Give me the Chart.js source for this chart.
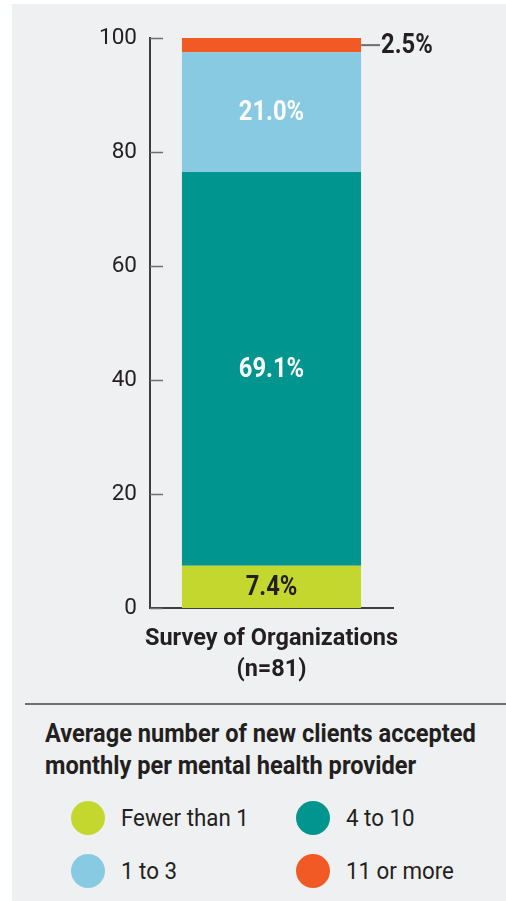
<!DOCTYPE html>
<html>
<head>
<meta charset="utf-8">
<script src="https://cdn.jsdelivr.net/npm/chart.js@4"></script>
<style>
  html, body { margin: 0; padding: 0; background: #ffffff; }
  body { width: 506px; height: 901px; position: relative; overflow: hidden;
         font-family: 'Roboto', sans-serif; color: #231f20; }
  .panel { position: absolute; left: 12px; top: 4px; right: 0; bottom: 0; background: #eff0f2; }
  .chart-box { position: absolute; left: 0; top: 0; width: 506px; height: 690px; }
  .rule { position: absolute; left: 25px; right: 0; top: 703px; height: 2px; background: #6d6e71; }
  .legend-title { position: absolute; left: 45px; top: 717px; font-size: 25.5px; font-weight: bold; line-height: 32px;
                  white-space: nowrap; transform: scaleX(0.925); transform-origin: left top; }
  .item { position: absolute; height: 34px; display: flex; align-items: center; font-size: 24px; white-space: nowrap; }
  .dot { width: 34px; height: 34px; border-radius: 50%; margin-right: 16px; flex: none; }
  .item span.txt { display: inline-block; transform: scaleX(0.93); transform-origin: left center; }
</style>
</head>
<body>
<div class="panel"></div>
<div class="chart-box"><canvas id="myChart"></canvas></div>
<div class="rule"></div>
<div class="legend-title">Average number of new clients accepted<br>monthly per mental health provider</div>
<div id="legend"></div>
<script>
// survey data (percent of organizations)
const categories = [['Survey of Organizations', '(n=81)']];
const seriesNames = ['Fewer than 1', '4 to 10', '1 to 3', '11 or more'];
const fewerThan1 = [7.4];
const fourTo10 = [69.1];
const oneTo3 = [21.0];
const elevenOrMore = [2.5];
const yTicks = [0, 20, 40, 60, 80, 100];

const colors = ['#c4d72f', '#00958f', '#87cae1', '#f15a24'];
const labelColors = ['#231f20', '#ffffff', '#ffffff', '#231f20'];
const FONT = "'Roboto', sans-serif";

// legend: two columns, two rows
const legendSlots = {
    'Fewer than 1': [71, 801], '4 to 10': [296, 801],
    '1 to 3': [71, 854], '11 or more': [296, 854]
};
const legend = document.getElementById('legend');
seriesNames.forEach((name, i) => {
    const el = document.createElement('div');
    el.className = 'item';
    el.style.left = legendSlots[name][0] + 'px';
    el.style.top = legendSlots[name][1] + 'px';
    el.innerHTML = '<span class="dot" style="background:' + colors[i] + '"></span><span class="txt">' + name + '</span>';
    legend.appendChild(el);
});

// draw text squeezed horizontally (narrow look)
function narrowText(ctx, text, x, y, sx) {
    ctx.save();
    ctx.translate(x, y);
    ctx.scale(sx, 1);
    ctx.fillText(text, 0, 0);
    ctx.restore();
}

// short inward ticks on the y axis + percentage labels on the segments
const barLabels = {
    id: 'barLabels',
    afterDatasetsDraw(chart) {
        const ctx = chart.ctx;
        const y = chart.scales.y;
        const left = chart.chartArea.left;
        ctx.save();
        ctx.strokeStyle = '#6d6e71';
        ctx.lineWidth = 1.5;
        y.ticks.forEach(t => {
            const py = Math.round(y.getPixelForValue(t.value)) + 0.5;
            ctx.beginPath();
            ctx.moveTo(left, py);
            ctx.lineTo(left + 13, py);
            ctx.stroke();
        });

        ctx.font = 'bold 27px ' + FONT;
        ctx.textBaseline = 'middle';
        chart.data.datasets.forEach((ds, i) => {
            const bar = chart.getDatasetMeta(i).data[0];
            const v = ds.data[0];
            const text = v.toFixed(1) + '%';
            const cy = (bar.y + bar.base) / 2;
            ctx.fillStyle = labelColors[i];
            if (v < 5) {
                // small segment: leader line and label outside the bar
                const x0 = bar.x + bar.width / 2;
                ctx.strokeStyle = '#6d6e71';
                ctx.lineWidth = 2;
                ctx.beginPath();
                ctx.moveTo(x0, cy);
                ctx.lineTo(x0 + 19, cy);
                ctx.stroke();
                ctx.textAlign = 'left';
                narrowText(ctx, text, x0 + 20, cy + 1, 0.88);
            } else {
                ctx.textAlign = 'center';
                narrowText(ctx, text, bar.x, cy + 1, 0.88);
            }
        });
        ctx.restore();
    }
};

const ctx = document.getElementById('myChart');
new Chart(ctx, {
    type: 'bar',
    data: {
        labels: categories,
        datasets: [
            { label: seriesNames[0], data: fewerThan1, backgroundColor: colors[0] },
            { label: seriesNames[1], data: fourTo10, backgroundColor: colors[1] },
            { label: seriesNames[2], data: oneTo3, backgroundColor: colors[2] },
            { label: seriesNames[3], data: elevenOrMore, backgroundColor: colors[3] }
        ]
    },
    options: {
        animation: false,
        responsive: true,
        maintainAspectRatio: false,
        events: [],
        categoryPercentage: 1,
        barPercentage: 0.737,
        layout: { padding: { top: 38, right: 113, bottom: 0, left: 0 } },
        scales: {
            x: {
                stacked: true,
                grid: { display: false, drawTicks: false },
                border: { display: true, color: '#3d3d3f', width: 2 },
                ticks: {
                    color: '#231f20',
                    padding: 16,
                    font: { family: FONT, size: 23.5, weight: 'bold', lineHeight: 1.3 }
                },
                afterFit: scale => { scale.height = 82; }
            },
            y: {
                stacked: true,
                min: 0,
                max: 100,
                grid: { display: false, drawTicks: false },
                border: { display: true, color: '#3d3d3f', width: 2 },
                afterBuildTicks: scale => { scale.ticks = yTicks.map(v => ({ value: v })); },
                ticks: {
                    color: '#231f20',
                    padding: 13,
                    font: { family: FONT, size: 22.5 }
                },
                afterFit: scale => { scale.width = 150; }
            }
        },
        plugins: {
            legend: { display: false },
            tooltip: { enabled: false }
        }
    },
    plugins: [barLabels]
});
</script>
</body>
</html>
